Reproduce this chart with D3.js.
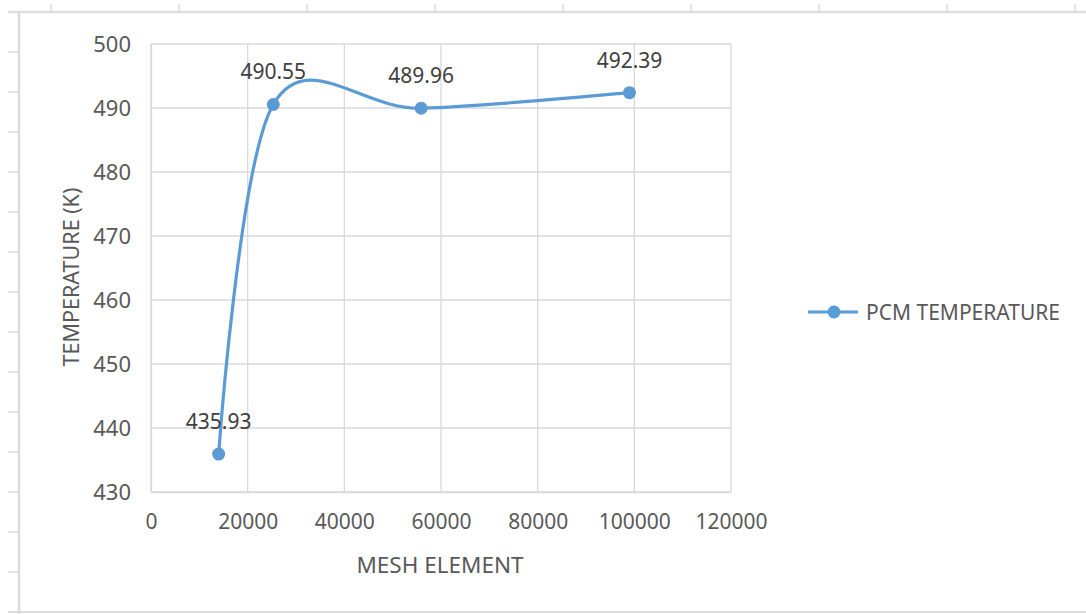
<!DOCTYPE html>
<html><head><meta charset="utf-8">
<script src="https://cdn.jsdelivr.net/npm/d3@7"></script>
<style>
html,body{margin:0;padding:0;background:#fff;}
svg{display:block;}
text{font-family:"Noto Sans",sans-serif;fill:#595959;}
</style></head>
<body>
<script>
const meshElements = [14000, 25300, 55900, 99000];
const temperatures = [435.93, 490.55, 489.96, 492.39];
const xTicks = [0, 20000, 40000, 60000, 80000, 100000, 120000];
const yTicks = [430, 440, 450, 460, 470, 480, 490, 500];
const seriesName = "PCM TEMPERATURE";
const xTitle = "MESH ELEMENT";
const yTitle = "TEMPERATURE (K)";

const W = 1086, H = 614;
const svg = d3.select("body").append("svg").attr("width", W).attr("height", H);

// outer spreadsheet-like frame
const frame = svg.append("g").attr("stroke", "#dcdcdc").attr("fill", "none");
frame.append("line").attr("x1", 8).attr("x2", W).attr("y1", 12).attr("y2", 12).attr("stroke-width", 2.5);
frame.append("line").attr("x1", 19).attr("x2", 19).attr("y1", 12).attr("y2", 614).attr("stroke-width", 2.5);
frame.append("line").attr("x1", 8).attr("x2", W).attr("y1", 612).attr("y2", 612).attr("stroke-width", 2);
d3.range(9).forEach(i => {
  const x = 51 + i * 128;
  frame.append("line").attr("x1", x).attr("x2", x).attr("y1", 4).attr("y2", 12).attr("stroke-width", 1.5);
});
d3.range(14).forEach(i => {
  const y = 52 + i * 40;
  frame.append("line").attr("x1", 8).attr("x2", 19).attr("y1", y).attr("y2", y).attr("stroke-width", 1.5);
});

const x = d3.scaleLinear().domain([0, 120000]).range([151, 731]);
const y = d3.scaleLinear().domain([430, 500]).range([492, 44]);

// gridlines
const grid = svg.append("g").attr("stroke", "#d9d9d9").attr("stroke-width", 1.3);
xTicks.forEach(t => grid.append("line").attr("x1", x(t)).attr("x2", x(t)).attr("y1", y(430)).attr("y2", y(500)));
yTicks.forEach(t => grid.append("line").attr("x1", x(0)).attr("x2", x(120000)).attr("y1", y(t)).attr("y2", y(t)));

// axes (labels only)
const xAxis = svg.append("g").attr("transform", `translate(0,${y(430)})`)
  .call(d3.axisBottom(x).tickValues(xTicks).tickSize(0).tickPadding(22).tickFormat(d3.format("d")));
xAxis.select(".domain").attr("stroke", "#d9d9d9").attr("stroke-width", 1.3);
xAxis.selectAll("text").style("font-size", "21px").attr("fill", "#595959");

const yAxis = svg.append("g").attr("transform", `translate(${x(0)},0)`)
  .call(d3.axisLeft(y).tickValues(yTicks).tickSize(0).tickPadding(20).tickFormat(d3.format("d")));
yAxis.select(".domain").attr("stroke", "#d9d9d9").attr("stroke-width", 1.3);
yAxis.selectAll("text").style("font-size", "22px").attr("fill", "#595959");

// titles
svg.append("text").attr("x", 440).attr("y", 564).attr("text-anchor", "middle")
  .attr("dominant-baseline", "central").style("font-size", "22.5px").text(xTitle);
svg.append("text").attr("transform", `translate(70,277) rotate(-90)`).attr("text-anchor", "middle")
  .attr("dominant-baseline", "central").style("font-size", "21.5px").text(yTitle);

const color = "#5b9bd5";
const data = meshElements.map((m, i) => ({m, t: temperatures[i]}));
const line = d3.line().x(d => x(d.m)).y(d => y(d.t)).curve(d3.curveCardinal.tension(0));
svg.append("path").datum(data).attr("d", line).attr("fill", "none")
  .attr("stroke", color).attr("stroke-width", 3.2).attr("stroke-linecap", "round");
svg.selectAll("circle.pt").data(data).enter().append("circle").attr("class", "pt")
  .attr("cx", d => x(d.m)).attr("cy", d => y(d.t)).attr("r", 6.5).attr("fill", color);

svg.selectAll("text.lbl").data(data).enter().append("text").attr("class", "lbl")
  .attr("x", d => x(d.m)).attr("y", d => y(d.t) - 33).attr("text-anchor", "middle")
  .attr("dominant-baseline", "central").style("font-size", "21px").style("fill", "#404040")
  .text(d => d.t.toFixed(2));

// legend
const lg = svg.append("g");
lg.append("line").attr("x1", 808).attr("x2", 858).attr("y1", 312).attr("y2", 312)
  .attr("stroke", color).attr("stroke-width", 3.2);
lg.append("circle").attr("cx", 834).attr("cy", 312).attr("r", 6.5).attr("fill", color);
lg.append("text").attr("x", 866).attr("y", 312).attr("dominant-baseline", "central")
  .style("font-size", "21px").text(seriesName);
</script>
</body></html>
